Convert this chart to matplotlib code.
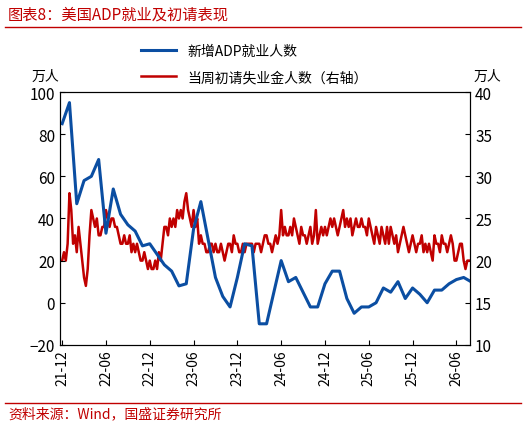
import matplotlib
matplotlib.use("Agg")
import matplotlib.pyplot as plt
import numpy as np

plt.rcParams['font.family'] = ['Noto Sans CJK SC', 'DejaVu Sans']

tick_labels = ["21-12","22-06","22-12","23-06","23-12","24-06","24-12","25-06","25-12","26-06"]
adp = [85,95,47,58,60,68,33,54,42,37,34,27,28,23,18,15,8,9,35,48,30,12,3,-2,12,28,27,-10,-10,5,
       20,10,12,5,-2,-2,9,15,15,2,-5,-2,-2,0,7,5,10,2,7,4,0,6,6,9,11,12,10,5]
claims = [20,21,20,22, 28,26,22,23, 21,24,22,20, 18,17,19,23, 26,25,24,25, 23,23,24,24,
          26,25,24,25, 25,24,24,23, 22,22,23,22, 22,23,21,22, 21,22,21,20, 20,21,20,19,
          20,19,19,20, 19,21,20,22, 24,24,23,25, 24,25,24,26, 25,26,25,27, 28,26,25,24,
          26,24,25,22, 23,22,22,21, 21,22,22,21, 22,21,21,22, 21,20,21,22, 22,21,23,22,
          22,21,21,22, 21,22,22,22, 22,21,22,22, 22,21,22,23, 23,22,22,21, 22,23,22,23,
          26,23,24,23, 23,24,23,25, 24,23,22,24, 23,23,22,23, 24,22,23,26, 22,23,24,23,
          24,23,24,25, 24,25,24,23, 24,25,26,24, 25,24,25,23, 24,25,24,24, 25,24,24,23,
          25,24,23,22, 24,23,22,24, 23,22,24,22, 24,23,22,23, 21,22,23,24, 23,22,21,22,
          23,22,21,22, 22,23,21,22, 21,22,21,20, 23,22,22,21, 23,22,22,21, 22,23,22,20,
          20,21,22,22, 20,19,20,20]

blue = "#0B4EA2"; red = "#C00000"
fig = plt.figure(figsize=(5.26,4.27), dpi=100)
ax = fig.add_axes([0.114,0.19,0.78,0.592])
ax2 = ax.twinx()
xm = np.arange(len(adp))
xw = np.arange(len(claims))/4.0
ax2.plot(xw, claims, color=red, lw=1.8, label="当周初请失业金人数（右轴）")
l1, = ax.plot(xm, adp, color=blue, lw=2.2, label="新增ADP就业人数")
ax.set_zorder(ax2.get_zorder()+1); ax.patch.set_visible(False)
ax.set_ylim(-20,100); ax.set_yticks(range(-20,101,20))
ax2.set_ylim(10,40); ax2.set_yticks(range(10,41,5))
ax.set_xlim(-0.3, len(claims)/4.0 - 0.1)
ax.set_xticks(np.arange(len(tick_labels))*6)
ax.set_xticklabels(tick_labels, rotation=90, fontsize=10)
for a in (ax, ax2):
    a.tick_params(direction='in', labelsize=11)
ax.tick_params(axis='x', labelsize=10)
h2, lab2 = ax2.get_legend_handles_labels()
fig.legend([l1]+h2, ["新增ADP就业人数"]+lab2, loc='upper left', bbox_to_anchor=(0.245,0.925),
           frameon=False, fontsize=10, handlelength=2.5, labelspacing=0.9)
fig.text(0.06,0.81,"万人",fontsize=10)
fig.text(0.9,0.81,"万人",fontsize=10)
fig.text(0.015,0.965,"图表8：美国ADP就业及初请表现",color=red,fontsize=11,style='italic',va='center')
fig.add_artist(plt.Line2D([0.01,0.99],[0.935,0.935],color=red,lw=1))
fig.add_artist(plt.Line2D([0.01,0.99],[0.055,0.055],color=red,lw=1))
fig.text(0.015,0.03,"资料来源：Wind，国盛证券研究所",color=red,fontsize=10,style='italic',va='center')
fig.savefig("out.png", dpi=100)
